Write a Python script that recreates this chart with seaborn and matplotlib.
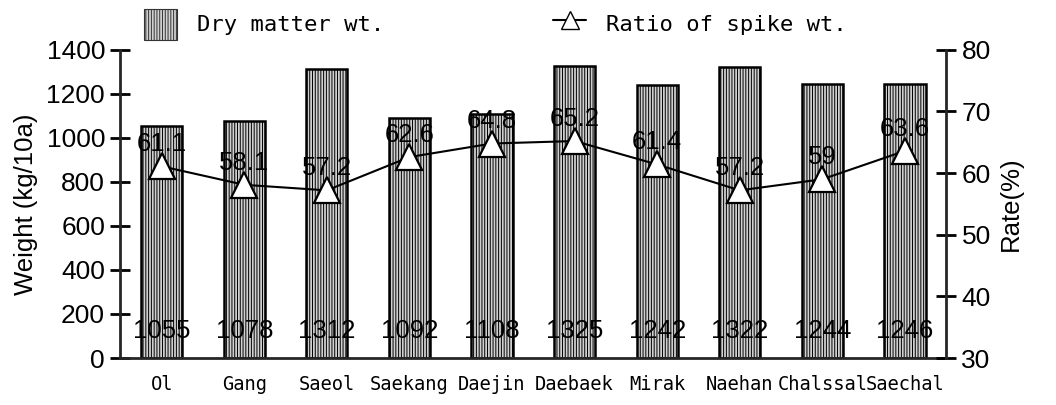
import pandas as pd
import numpy as np
import matplotlib.pyplot as plt
import seaborn as sns
from matplotlib.patches import Patch
from matplotlib.lines import Line2D

# data
cultivars = ['Ol', 'Gang', 'Saeol', 'Saekang', 'Daejin', 'Daebaek',
             'Mirak', 'Naehan', 'Chalssal', 'Saechal']
dry_matter = [1055, 1078, 1312, 1092, 1108, 1325, 1242, 1322, 1244, 1246]
spike_ratio = [61.1, 58.1, 57.2, 62.6, 64.8, 65.2, 61.4, 57.2, 59, 63.6]
spike_labels = ['61.1', '58.1', '57.2', '62.6', '64.8', '65.2', '61.4', '57.2', '59', '63.6']

df = pd.DataFrame({'Cultivar': cultivars, 'Dry': dry_matter, 'Ratio': spike_ratio})

sns.set_style('white')
plt.rcParams['font.family'] = ['Liberation Sans', 'DejaVu Sans']
plt.rcParams['hatch.linewidth'] = 0.7
plt.rcParams['hatch.color'] = '#333333'
for k in ['text.color', 'axes.labelcolor', 'xtick.color', 'ytick.color']:
    plt.rcParams[k] = 'black'
mono = 'DejaVu Sans Mono'

fig = plt.figure(figsize=(10.56, 4.05), dpi=100)
ax = fig.add_axes([0.114, 0.116, 0.782, 0.761])

sns.barplot(data=df, x='Cultivar', y='Dry', ax=ax, color='#d0d0d0',
            width=0.5, edgecolor='black', linewidth=1.8, hatch='||||||')
for p in ax.patches:
    p.set_edgecolor('black')

for i, v in enumerate(df['Dry']):
    ax.text(i, 125, str(v), ha='center', va='center', fontsize=18.5)

ax.set_ylim(0, 1400)
ax.set_xlim(-0.5, 9.5)
ax.set_yticks(range(0, 1401, 200))
ax.set_ylabel('Weight (kg/10a)', fontsize=18.5, labelpad=6)
ax.set_xlabel('')
ax.set_xticks(range(len(cultivars)))
ax.set_xticklabels(cultivars, family=mono, fontsize=13.5)
ax.tick_params(axis='y', direction='inout', length=14, width=2, labelsize=19, pad=4)
ax.tick_params(axis='x', length=0, pad=12)
for s in ['top', 'right']:
    ax.spines[s].set_visible(False)
ax.spines['left'].set_linewidth(2)
ax.spines['bottom'].set_linewidth(2)

ax2 = ax.twinx()
sns.pointplot(data=df, x='Cultivar', y='Ratio', ax=ax2, color='black',
              markers='^', linestyles='-', linewidth=1.5,
              markersize=19, markerfacecolor='white', markeredgewidth=1.6)
for i, (v, lab) in enumerate(zip(df['Ratio'], spike_labels)):
    ax2.text(i, v + 3.6, lab, ha='center', va='center', fontsize=18.5)

ax2.set_ylim(30, 80)
ax2.set_yticks(range(30, 81, 10))
ax2.set_ylabel('Rate(%)', fontsize=18.5, labelpad=6)
ax2.set_xlim(-0.5, 9.5)
ax2.tick_params(axis='y', direction='inout', length=14, width=2, labelsize=19, pad=4)
for s in ['top', 'left', 'bottom']:
    ax2.spines[s].set_visible(False)
ax2.spines['right'].set_linewidth(2)

handles = [Patch(facecolor='#d0d0d0', edgecolor='#333333', hatch='||||||', linewidth=0.8),
           Line2D([0], [0], color='black', marker='^', markersize=13,
                  markerfacecolor='white', linewidth=1.5)]
fig.legend(handles, ['Dry matter wt.', 'Ratio of spike wt.'], ncol=2,
           loc='center left', bbox_to_anchor=(0.136, 0.94), frameon=False,
           prop={'family': mono, 'size': 16}, columnspacing=7.6,
           handlelength=1.5, handleheight=1.8, handletextpad=0.9,
           borderpad=0, borderaxespad=0)

fig.savefig('out.png', dpi=100)
